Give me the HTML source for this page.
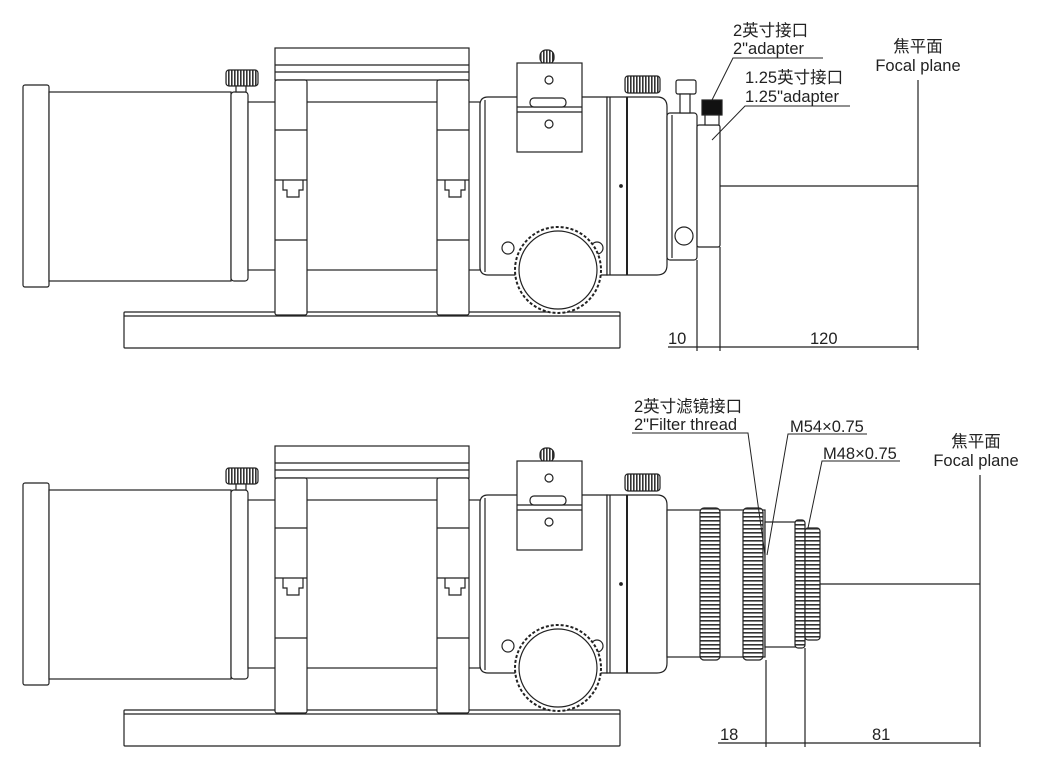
<!DOCTYPE html>
<html><head><meta charset="utf-8"><style>
html,body{margin:0;padding:0;background:#fff}
svg{display:block}
text{font-family:"Liberation Sans","Noto Sans CJK SC",sans-serif;font-size:16.5px;fill:#222}
</style></head><body>
<svg width="1040" height="771" viewBox="0 0 1040 771" xmlns="http://www.w3.org/2000/svg">
<defs>
<pattern id="knurl" width="3" height="4" patternUnits="userSpaceOnUse"><rect width="3" height="4" fill="#fff"/><rect width="1.6" height="4" fill="#333"/></pattern>
<pattern id="knurlH" width="4" height="4" patternUnits="userSpaceOnUse"><rect width="4" height="4" fill="#fff"/><rect width="4" height="1.6" fill="#333"/></pattern>
<g id="scope" fill="#fff" stroke="#222" stroke-width="1.2">
  <rect x="124" y="312" width="496" height="36" rx="1"/>
  <line x1="124" y1="316" x2="620" y2="316"/>
  <rect x="23" y="85" width="26" height="202" rx="2"/>
  <rect x="49" y="92" width="182" height="189"/>
  <rect x="231" y="92" width="17" height="189" rx="3"/>
  <rect x="226" y="70" width="32" height="16" rx="3" fill="url(#knurl)"/>
  <rect x="236" y="86" width="10" height="6"/>
  <rect x="248" y="102" width="232" height="168"/>
  <rect x="275" y="48" width="194" height="32"/>
  <line x1="275" y1="65" x2="469" y2="65"/>
  <line x1="275" y1="72" x2="469" y2="72"/>
  <g>
    <rect x="275" y="80" width="32" height="235" rx="2"/>
    <line x1="275" y1="130" x2="307" y2="130"/>
    <line x1="275" y1="180" x2="307" y2="180"/>
    <line x1="275" y1="240" x2="307" y2="240"/>
    <path d="M283 180 v10 h4 v7 h12 v-7 h4 v-10" fill="none"/>
    <rect x="437" y="80" width="32" height="235" rx="2"/>
    <line x1="437" y1="130" x2="469" y2="130"/>
    <line x1="437" y1="180" x2="469" y2="180"/>
    <line x1="437" y1="240" x2="469" y2="240"/>
    <path d="M445 180 v10 h4 v7 h12 v-7 h4 v-10" fill="none"/>
  </g>
  <path d="M488 97 H607 V275 H488 Q480 275 480 267 V105 Q480 97 488 97 Z"/>
  <line x1="485" y1="100" x2="485" y2="272"/>
  <rect x="540" y="50" width="14" height="14" rx="6" fill="url(#knurl)"/>
  <rect x="517" y="63" width="65" height="89"/>
  <line x1="517" y1="107" x2="582" y2="107"/>
  <line x1="517" y1="112" x2="582" y2="112"/>
  <rect x="530" y="98" width="36" height="9" rx="4"/>
  <circle cx="549" cy="80" r="4"/>
  <circle cx="549" cy="124" r="4"/>
  <path d="M607 97 H657 Q667 97 667 107 V265 Q667 275 657 275 H607 Z"/>
  <line x1="627" y1="97" x2="627" y2="275" stroke-width="2"/>
  <line x1="610" y1="97" x2="610" y2="275"/>
  <rect x="625" y="76" width="35" height="17" rx="3" fill="url(#knurl)"/>
  <circle cx="621" cy="186" r="1.3" fill="#222"/>
  <circle cx="508" cy="248" r="6"/><circle cx="597" cy="248" r="6"/>
  <circle cx="558" cy="270" r="43" stroke-dasharray="3 2" stroke-width="2"/>
  <circle cx="558" cy="270" r="39"/>
</g>
</defs>

<use href="#scope"/>
<use href="#scope" transform="translate(0,398)"/>

<g fill="#fff" stroke="#222" stroke-width="1.2">
  <rect x="667" y="113" width="30" height="147" rx="3"/>
  <line x1="672" y1="115" x2="672" y2="258"/>
  <rect x="676" y="80" width="20" height="14" rx="2"/>
  <rect x="680" y="94" width="10" height="19"/>
  <circle cx="684" cy="236" r="9"/>
  <rect x="697" y="125" width="23" height="122" rx="2"/>
  <rect x="702" y="100" width="20" height="15" fill="#111"/>
  <rect x="705" y="115" width="14" height="10"/>
  <line x1="720" y1="186" x2="918" y2="186"/>
  <line x1="918" y1="80" x2="918" y2="350"/>
  <line x1="668" y1="347" x2="918" y2="347"/>
  <line x1="697" y1="260" x2="697" y2="351"/>
  <line x1="720" y1="247" x2="720" y2="351"/>
  <polyline points="823,58 733,58 712,100" fill="none" stroke-width="1"/>
  <polyline points="850,106 745,106 712,140" fill="none" stroke-width="1"/>
</g>
<text x="733" y="36">2英寸接口</text>
<text x="733" y="54">2"adapter</text>
<text x="745" y="83">1.25英寸接口</text>
<text x="745" y="102">1.25"adapter</text>
<text x="918" y="52" text-anchor="middle">焦平面</text>
<text x="918" y="71" text-anchor="middle">Focal plane</text>
<text x="668" y="344">10</text>
<text x="810" y="344">120</text>

<g fill="#fff" stroke="#222" stroke-width="1.2">
  <rect x="667" y="510" width="98" height="147"/>
  <rect x="700" y="508" width="20" height="152" rx="4" fill="url(#knurlH)"/>
  <rect x="743" y="508" width="20" height="152" rx="4" fill="url(#knurlH)"/>
  <rect x="765" y="522" width="32" height="125"/>
  <rect x="795" y="520" width="10" height="128" rx="3" fill="url(#knurlH)"/>
  <rect x="805" y="528" width="15" height="112" rx="3" fill="url(#knurlH)"/>
  <line x1="820" y1="584" x2="980" y2="584"/>
  <line x1="980" y1="475" x2="980" y2="747"/>
  <line x1="718" y1="743" x2="980" y2="743"/>
  <line x1="766" y1="660" x2="766" y2="747"/>
  <line x1="805" y1="648" x2="805" y2="747"/>
  <polyline points="632,433 748,433 765,555" fill="none" stroke-width="1"/>
  <polyline points="867,434 788,434 767,555" fill="none" stroke-width="1"/>
  <polyline points="900,461 822,461 808,528" fill="none" stroke-width="1"/>
</g>
<text x="634" y="412">2英寸滤镜接口</text>
<text x="634" y="430">2"Filter thread</text>
<text x="790" y="432">M54×0.75</text>
<text x="823" y="459">M48×0.75</text>
<text x="976" y="447" text-anchor="middle">焦平面</text>
<text x="976" y="466" text-anchor="middle">Focal plane</text>
<text x="720" y="740">18</text>
<text x="872" y="740">81</text>
</svg>
</body></html>
